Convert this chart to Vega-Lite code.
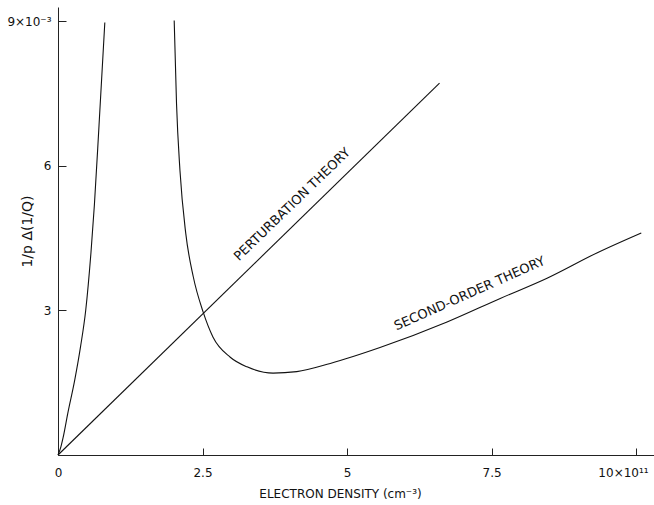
{
  "$schema": "https://vega.github.io/schema/vega-lite/v6.json",
  "width": 596,
  "height": 448,
  "autosize": {"type": "none"},
  "padding": {"left": 58, "top": 7, "right": 0, "bottom": 50},
  "background": "white",
  "config": {
    "view": {"stroke": null},
    "font": "DejaVu Sans",
    "axis": {
      "grid": false,
      "domainColor": "#222",
      "tickColor": "#222",
      "labelColor": "#111",
      "titleColor": "#111",
      "labelFont": "DejaVu Sans",
      "titleFont": "DejaVu Sans",
      "labelFontSize": 12,
      "titleFontSize": 12,
      "titleFontWeight": "normal",
      "domainWidth": 1,
      "tickWidth": 1
    }
  },
  "datasets": {
    "curves": [
      {"series": "left", "x": 0, "y": 0},
      {"series": "left", "x": 0.05, "y": 0.17},
      {"series": "left", "x": 0.09, "y": 0.37},
      {"series": "left", "x": 0.17, "y": 0.87},
      {"series": "left", "x": 0.29, "y": 1.56},
      {"series": "left", "x": 0.39, "y": 2.25},
      {"series": "left", "x": 0.48, "y": 3.01},
      {"series": "left", "x": 0.57, "y": 4.2},
      {"series": "left", "x": 0.63, "y": 5.2},
      {"series": "left", "x": 0.71, "y": 6.85},
      {"series": "left", "x": 0.81, "y": 8.98},
      {"series": "perturbation", "x": 0, "y": 0},
      {"series": "perturbation", "x": 6.6, "y": 7.72},
      {"series": "second", "x": 2.01, "y": 9.02},
      {"series": "second", "x": 2.05, "y": 7.3},
      {"series": "second", "x": 2.11, "y": 5.9},
      {"series": "second", "x": 2.21, "y": 4.6},
      {"series": "second", "x": 2.34, "y": 3.7},
      {"series": "second", "x": 2.51, "y": 2.97},
      {"series": "second", "x": 2.68, "y": 2.45},
      {"series": "second", "x": 2.98, "y": 2.03},
      {"series": "second", "x": 3.27, "y": 1.83},
      {"series": "second", "x": 3.72, "y": 1.70},
      {"series": "second", "x": 4.13, "y": 1.73},
      {"series": "second", "x": 4.71, "y": 1.9},
      {"series": "second", "x": 5.57, "y": 2.23},
      {"series": "second", "x": 6.73, "y": 2.76},
      {"series": "second", "x": 7.65, "y": 3.25},
      {"series": "second", "x": 8.46, "y": 3.67},
      {"series": "second", "x": 9.33, "y": 4.2},
      {"series": "second", "x": 10.09, "y": 4.61}
    ],
    "label1": [{"x": 4.05, "y": 5.2, "text": "PERTURBATION   THEORY"}],
    "label2": [{"x": 7.12, "y": 3.35, "text": "SECOND-ORDER  THEORY"}]
  },
  "layer": [
    {
      "data": {"name": "curves"},
      "mark": {"type": "line", "color": "#111", "strokeWidth": 1.1, "interpolate": "monotone"},
      "encoding": {
        "x": {
          "field": "x", "type": "quantitative",
          "scale": {"domain": [0, 10.31], "nice": false, "zero": false},
          "axis": {
            "values": [0, 2.5, 5, 7.5, 10],
            "tickSize": -7,
            "labelPadding": 19,
            "labelExpr": "datum.value == 10 ? '10×10¹¹' : datum.value == 0 ? '0' : format(datum.value, '~g')",
            "labelAlign": {"condition": {"test": "datum.value == 10", "value": "right"}, "value": "center"},
            "labelOffset": {"condition": {"test": "datum.value == 10", "value": 12}, "value": 0},
            "title": "ELECTRON DENSITY (cm⁻³)",
            "titleX": 282,
            "titleY": 33,
            "titleAlign": "center",
            "titleBaseline": "top"
          }
        },
        "y": {
          "field": "y", "type": "quantitative",
          "scale": {"domain": [0, 9.3], "nice": false, "zero": false},
          "axis": {
            "values": [3, 6, 9],
            "tickSize": -8,
            "labelPadding": 15,
            "labelExpr": "datum.value == 9 ? '9×10⁻³' : format(datum.value, 'd')",
            "title": "1/p  Δ(1/Q)",
            "titleX": -31,
            "titleY": 224,
            "titleAlign": "center",
            "titleBaseline": "middle",
            "titleFontSize": 14
          }
        },
        "detail": {"field": "series"}
      }
    },
    {
      "data": {"name": "label1"},
      "mark": {"type": "text", "angle": -44, "fontSize": 13, "font": "DejaVu Sans", "color": "#111", "align": "center", "baseline": "middle"},
      "encoding": {
        "x": {"field": "x", "type": "quantitative"},
        "y": {"field": "y", "type": "quantitative"},
        "text": {"field": "text"}
      }
    },
    {
      "data": {"name": "label2"},
      "mark": {"type": "text", "angle": -24, "fontSize": 13, "font": "DejaVu Sans", "color": "#111", "align": "center", "baseline": "middle"},
      "encoding": {
        "x": {"field": "x", "type": "quantitative"},
        "y": {"field": "y", "type": "quantitative"},
        "text": {"field": "text"}
      }
    }
  ]
}
